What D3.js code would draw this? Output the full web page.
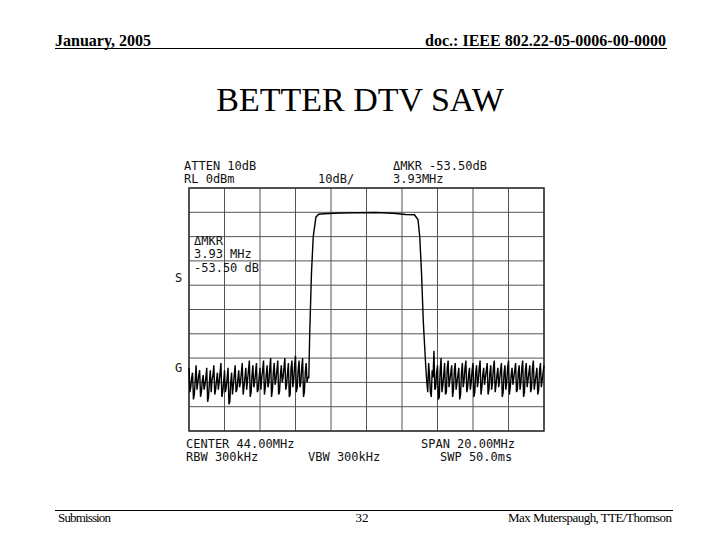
<!DOCTYPE html>
<html><head><meta charset="utf-8">
<script src="https://cdn.jsdelivr.net/npm/d3@7"></script>
<style>body{margin:0;background:#fff}</style>
</head><body>
<script>
// trace data (MHz, dBm)
const noiseLeftStart = 34.0, noiseStep = 0.1;
const noiseLeft = [-74,-82,-76,-85,-73,-80,-75,-84,-77,-81,-74,-86,-75,-79,-73,-83,-76,-80,-72,-84,-75,-82,-74,-88,-76,-81,-73,-83,-75,-80,-72,-82,-74,-79,-71,-84,-73,-80,-72,-83,-74,-78,-71,-82,-73,-80,-70,-83,-72,-79,-71,-84,-73,-78,-70,-81,-72,-85,-71,-79,-69,-82,-71,-80,-70,-84,-72,-78];
const noiseLeftMid = [-84,-78,-87,-79,-83,-77,-86,-79,-83,-78,-88,-80,-84,-77,-85,-79,-83,-76,-86,-80,-84,-78,-89,-80,-85,-77,-84,-79,-82,-76,-85,-78,-83,-75,-86,-77,-82,-76,-84,-78,-83,-75,-85,-77,-82,-74,-86,-76,-81,-75,-85,-77,-80,-74,-83,-76,-86,-74,-82,-73,-84,-75,-82,-74,-86,-76,-80];
const passFreq = [40.75,40.8,40.9,41.0,41.15,41.3,41.6,42.5,43.5,44.5,45.5,46.2,46.7,46.9,47.0,47.1,47.2,47.35];
const passDb = [-78,-60,-35,-20,-12,-10.8,-10.6,-10.3,-10.2,-10.1,-10.4,-10.9,-11,-13,-20,-35,-55,-75];
const noiseRightStart = 47.4;
const noiseRight = [-80,-72,-84,-75,-67,-82,-73,-86,-70,-81,-72,-84,-71,-79,-73,-83,-72,-80,-74,-85,-72,-79,-71,-82,-74,-80,-72,-84,-73,-79,-71,-82,-74,-78,-72,-83,-73,-80,-71,-81,-74,-79,-72,-84,-73,-80,-71,-82,-74,-78,-72,-83,-73,-80,-71,-84,-72,-79,-73,-82,-71,-80,-74,-83,-72,-79,-73];
const noiseRightMid = [-84,-77,-86,-78,-83,-76,-87,-75,-84,-77,-85,-74,-82,-76,-86,-75,-83,-77,-87,-76,-82,-74,-84,-77,-83,-75,-86,-76,-82,-74,-85,-77,-81,-75,-85,-76,-83,-74,-84,-77,-82,-75,-86,-76,-83,-74,-85,-77,-81,-75,-84,-76,-83,-74,-86,-75,-82,-76,-84,-74,-83,-77,-85,-75,-82,-76];
const freqTicks = d3.range(34, 54.01, 2);
const dbTicks = d3.range(0, -100.1, -10);

const svg = d3.select('body').append('svg').attr('width', 720).attr('height', 540);
const serif = 'Liberation Serif, Times New Roman, serif';
const mono = 'DejaVu Sans Mono, monospace';

// slide header / footer
svg.append('text').attr('x', 55).attr('y', 46).text('January, 2005')
  .style('font', 'bold 16px ' + serif);
svg.append('text').attr('x', 666).attr('y', 46).attr('text-anchor', 'end')
  .text('doc.: IEEE 802.22-05-0006-00-0000').style('font', 'bold 16px ' + serif);
svg.append('line').attr('x1', 55).attr('x2', 667).attr('y1', 48.5).attr('y2', 48.5)
  .attr('stroke', '#000').attr('stroke-width', 1);
svg.append('text').attr('x', 360).attr('y', 111).attr('text-anchor', 'middle')
  .text('BETTER DTV SAW').style('font', '34px ' + serif);
svg.append('line').attr('x1', 55).attr('x2', 673).attr('y1', 510.5).attr('y2', 510.5)
  .attr('stroke', '#000').attr('stroke-width', 1);
svg.append('text').attr('x', 58).attr('y', 522).text('Submission')
  .style('font', '13px ' + serif).attr('textLength', 53);
svg.append('text').attr('x', 362).attr('y', 522).attr('text-anchor', 'middle').text('32')
  .style('font', '13px ' + serif);
svg.append('text').attr('x', 508).attr('y', 522).text('Max Muterspaugh, TTE/Thomson')
  .style('font', '13px ' + serif).attr('textLength', 164);

// analyzer screen
const x = d3.scaleLinear().domain([34, 54]).range([189, 544]);
const y = d3.scaleLinear().domain([0, -100]).range([188, 431]);

const grid = svg.append('g');
grid.selectAll('.vx').data(freqTicks).join('line')
  .attr('x1', d => x(d)).attr('x2', d => x(d)).attr('y1', y(0)).attr('y2', y(-100))
  .attr('stroke', '#555').attr('stroke-width', 1);
grid.selectAll('.hy').data(dbTicks).join('line')
  .attr('x1', x(34)).attr('x2', x(54)).attr('y1', d => y(d)).attr('y2', d => y(d))
  .attr('stroke', '#555').attr('stroke-width', 1);
svg.append('rect').attr('x', x(34)).attr('y', y(0)).attr('width', x(54) - x(34))
  .attr('height', y(-100) - y(0)).attr('fill', 'none').attr('stroke', '#333').attr('stroke-width', 1.5);

const trace = [];
noiseLeft.forEach((v, i) => {
  trace.push([noiseLeftStart + i * noiseStep, v]);
  if (i < noiseLeftMid.length) trace.push([noiseLeftStart + (i + 0.5) * noiseStep, noiseLeftMid[i]]);
});
passFreq.forEach((f, i) => trace.push([f, passDb[i]]));
noiseRight.forEach((v, i) => {
  trace.push([noiseRightStart + i * noiseStep, v]);
  if (i < noiseRightMid.length) trace.push([noiseRightStart + (i + 0.5) * noiseStep, noiseRightMid[i]]);
});

svg.append('path').datum(trace)
  .attr('d', d3.line().x(d => x(d[0])).y(d => y(d[1])))
  .attr('fill', 'none').attr('stroke', '#000').attr('stroke-width', 1.4);

const label = (tx, ty, t) => svg.append('text').attr('x', tx).attr('y', ty).text(t)
  .style('font', '12px ' + mono).attr('fill', '#111');
label(184, 170, 'ATTEN 10dB');
label(184, 183, 'RL 0dBm');
label(318, 183, '10dB/');
label(393, 170, '\u0394MKR -53.50dB');
label(393, 183, '3.93MHz');
label(194, 245, '\u0394MKR');
label(194, 258, '3.93 MHz');
label(194, 272, '-53.50 dB');
label(175, 282, 'S');
label(175, 372, 'G');
label(186, 448, 'CENTER 44.00MHz');
label(421, 448, 'SPAN 20.00MHz');
label(186, 461, 'RBW 300kHz');
label(308, 461, 'VBW 300kHz');
label(440, 461, 'SWP 50.0ms');
</script>
</body></html>
